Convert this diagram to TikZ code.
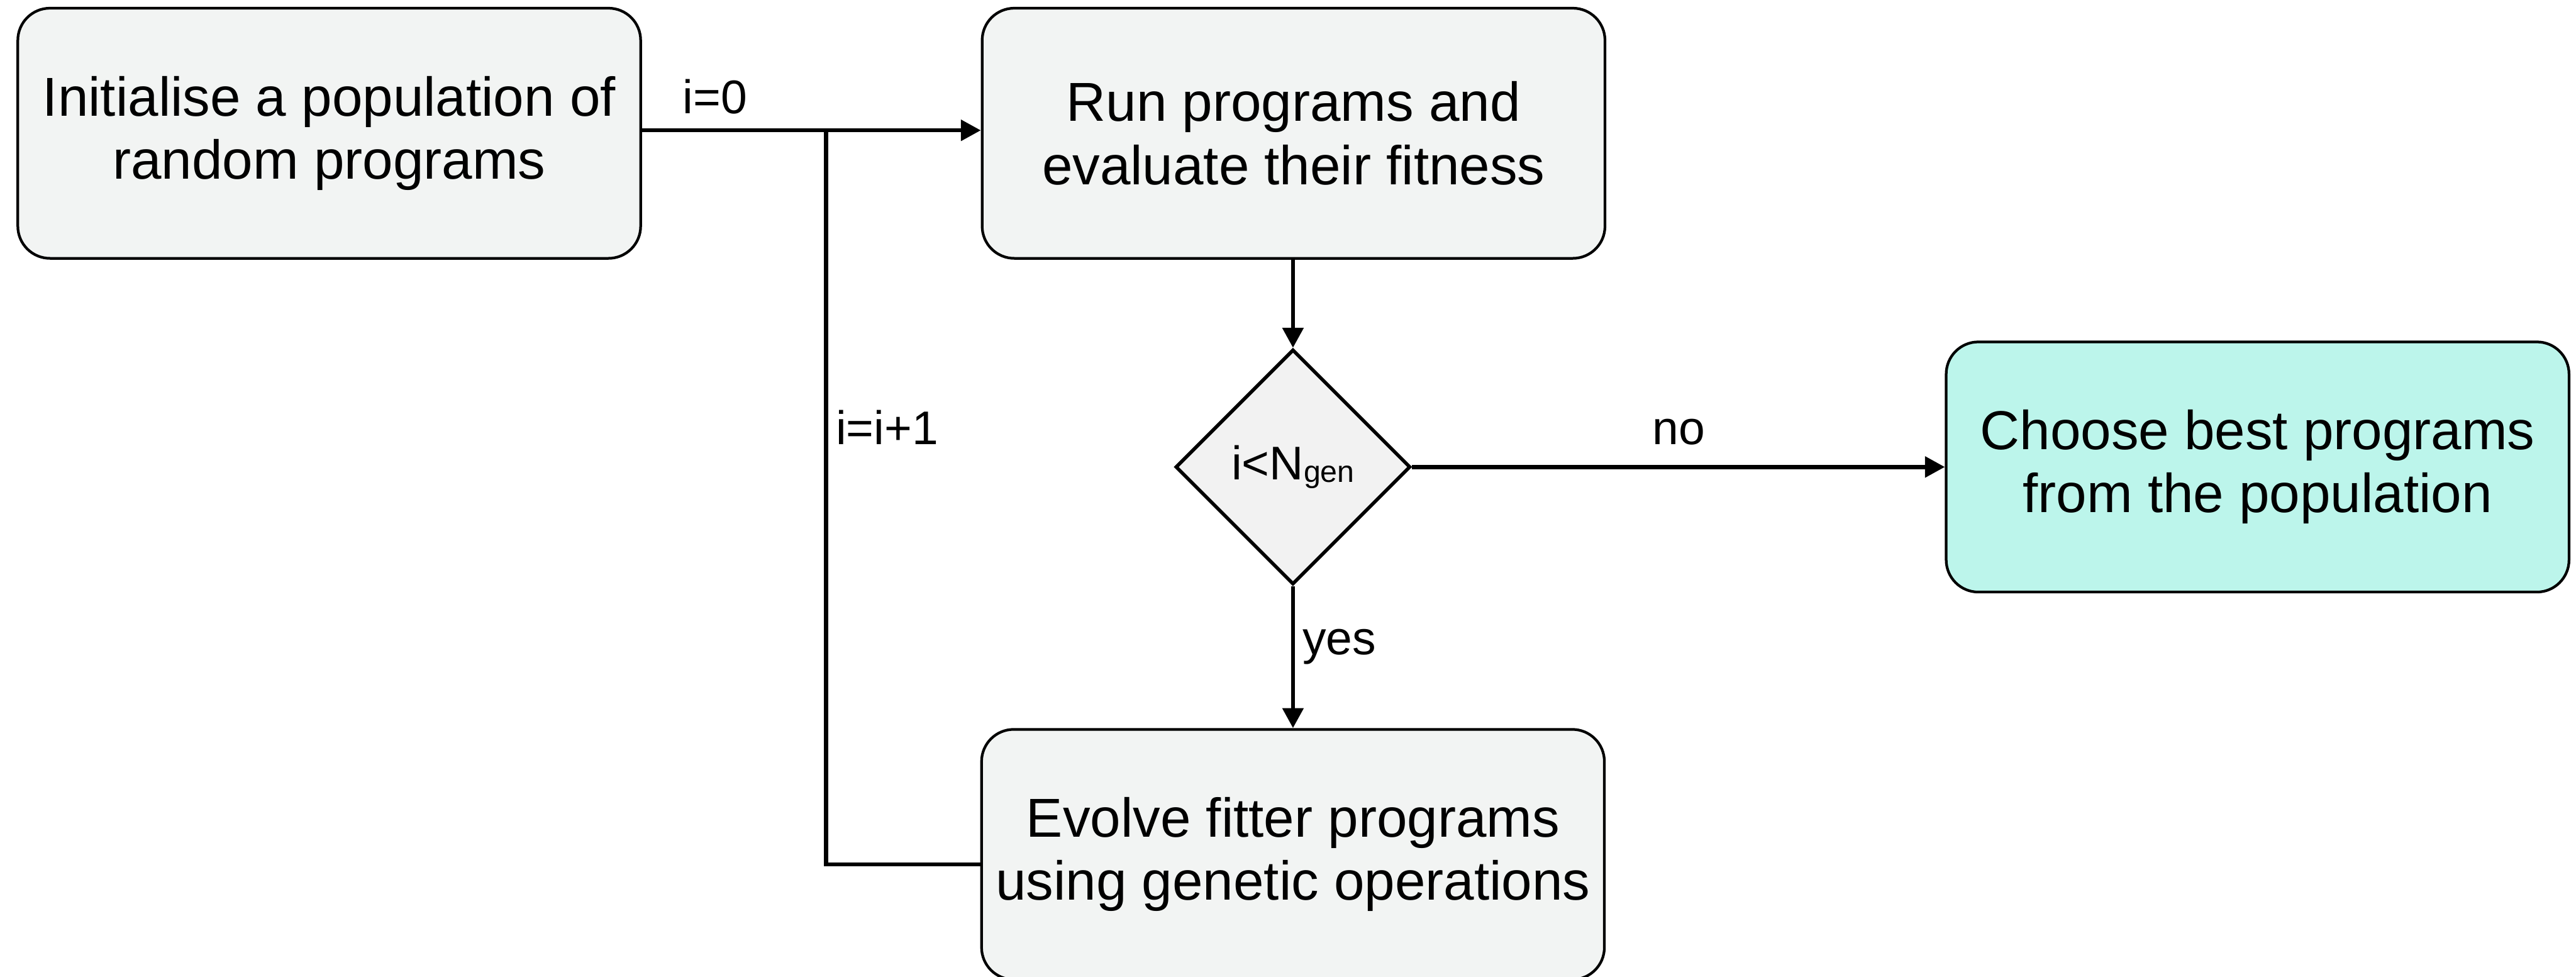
\documentclass[tikz,border=0pt]{standalone}
\usepackage{fontspec}
\setmainfont{Liberation Sans}
\usetikzlibrary{arrows.meta,shapes.geometric}
\definecolor{boxgrey}{HTML}{F2F4F3}
\definecolor{diagrey}{HTML}{F2F2F2}
\definecolor{resultcyan}{HTML}{BCF5EB}
\tikzset{
  procbox/.style={draw=black, line width=1.3pt, fill=boxgrey, rounded corners=0.55cm,
    minimum width=10.66cm, minimum height=4.28cm, inner sep=0pt, align=center,
    font=\fontsize{26.7}{30.7}\selectfont},
  decision/.style={draw=black, line width=1.7pt, fill=diagrey, diamond, aspect=1,
    minimum size=4.02cm, inner sep=0pt, font=\fontsize{23}{26}\selectfont},
  flow/.style={line width=2pt, -{Triangle[length=0.34cm, width=0.35cm]}},
  plainflow/.style={line width=2pt},
  edgelabel/.style={inner sep=0pt, anchor=base west, font=\fontsize{23}{26}\selectfont}
}
\begin{document}
\begin{tikzpicture}
\useasboundingbox (0,0) rectangle (44.09,-16.71);

% process steps
\node[procbox] (init) at (5.635,-2.28) {Initialise a population of\\random programs};
\node[procbox] (run) at (22.14,-2.28) {Run programs and\\evaluate their fitness};
\node[decision] (test) at (22.13,-7.99) {i<N\raisebox{-0.04cm}{\fontsize{14.8}{16}\selectfont gen}};
\node[procbox, fill=resultcyan] (best) at (38.64,-7.99) {Choose best programs\\from the population};
\node[procbox] (evolve) at (22.13,-14.62) {Evolve fitter programs\\using genetic operations};

% loop junction and corner
\coordinate (join) at (14.14,-2.23);
\coordinate (corner) at (14.14,-14.79);

% connectors
\draw[flow] (init.east |- join) -- (run.west |- join);
\draw[flow] (run.south -| test.north) -- (test.north);
\draw[flow] (test.east) -- (best.west |- test.east);
\draw[flow] (test.south) -- (evolve.north -| test.south);
\draw[plainflow] (evolve.west |- corner) -- (corner) -- (join);

% labels
\node[edgelabel] (lblinit) at (11.68,-1.94) {i=0};
\node[edgelabel] (lblinc) at (14.30,-7.61) {i=i+1};
\node[edgelabel] (lblno) at (28.28,-7.61) {no};
\node[edgelabel] (lblyes) at (22.29,-11.20) {yes};
\end{tikzpicture}
\end{document}
